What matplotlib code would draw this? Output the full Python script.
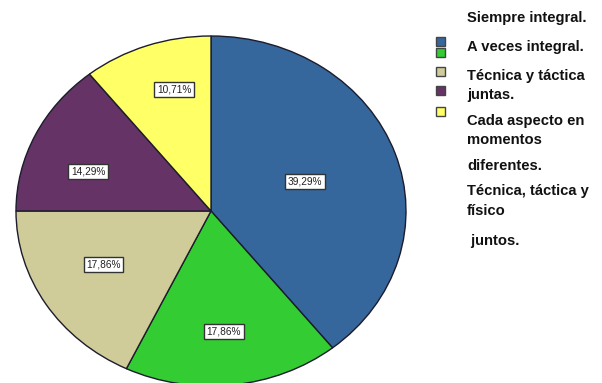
import matplotlib
matplotlib.use('Agg')
import matplotlib.pyplot as plt
from matplotlib.patches import Rectangle
import numpy as np

# data
categories = ['Siempre integral.', 'A veces integral.', 'Técnica y táctica juntas.',
              'Cada aspecto en momentos diferentes.', 'Técnica, táctica y físico juntos.']
values = [39.29, 17.86, 17.86, 14.29, 10.71]
colors = ['#35669c', '#33cc33', '#cfcc9a', '#663366', '#ffff66']
# where the percentage boxes sit inside each wedge (fraction of radius, angle shift)
label_dist = [0.51, 0.69, 0.63, 0.67, 0.72]
label_shift = [0, -1, -3, 6, -4]

# legend text lines as they appear (misaligned in the original)
legend_lines = ['Siempre integral.', 'A veces integral.', 'Técnica y táctica', 'juntas.',
                'Cada aspecto en', 'momentos', 'diferentes.', 'Técnica, táctica y', 'físico',
                ' juntos.']
legend_line_y = [18, 47, 76, 95, 121, 140, 166, 191, 211, 241]
legend_box_y = [41, 52, 71, 90, 111]

W, H = 602, 383
fig = plt.figure(figsize=(W / 100, H / 100), dpi=100)
fig.patch.set_facecolor('white')

# elliptical pie: axes box is 390 x 350 px, bottom cut off by the figure edge
ax = fig.add_axes([16 / W, 1 - 386 / H, 390 / W, 350 / H])
wedges, _ = ax.pie(values, colors=colors, startangle=90, counterclock=False,
                   wedgeprops=dict(edgecolor='#1c1c2c', linewidth=1.0))
ax.set_aspect('auto')
ax.set_xlim(-1, 1)
ax.set_ylim(-1, 1)
ax.axis('off')

for w, v, d, s in zip(wedges, values, label_dist, label_shift):
    ang = np.deg2rad((w.theta1 + w.theta2) / 2 + s)
    ax.text(d * np.cos(ang), d * np.sin(ang), ('%.2f%%' % v).replace('.', ','),
            ha='center', va='center', fontsize=7.3, color='#222222',
            family='Liberation Sans',
            bbox=dict(boxstyle='square,pad=0.25', fc='white', ec='#333333', lw=1.0))

# legend squares
for c, y in zip(colors, legend_box_y):
    fig.add_artist(Rectangle((436 / W, 1 - (y + 4.5) / H), 9 / W, 9 / H,
                             transform=fig.transFigure, fc=c, ec='#444444', lw=1.0))

# legend text
for t, y in zip(legend_lines, legend_line_y):
    fig.text(467 / W, 1 - y / H, t, ha='left', va='center', fontsize=10.6,
             fontweight='bold', family='Liberation Sans', color='#111111')

fig.savefig('out.png', dpi=100)
